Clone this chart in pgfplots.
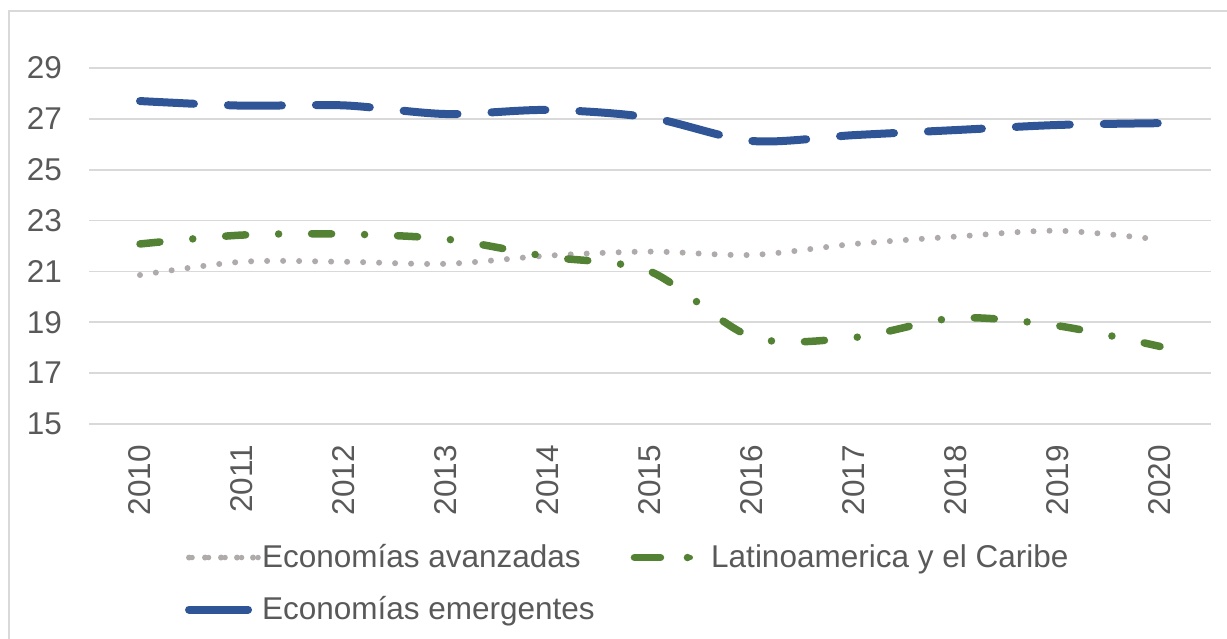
\documentclass[border=0pt]{standalone}
\usepackage{fontspec}
\setmainfont{Liberation Sans}
\usepackage{pgfplots}
\usepackage{pgfplotstable}
\pgfplotsset{compat=1.18}

\definecolor{gridgray}{HTML}{D9D9D9}
\definecolor{textgray}{HTML}{595959}
\definecolor{avzgray}{HTML}{AFABAB}
\definecolor{latgreen}{HTML}{548235}
\definecolor{emgblue}{HTML}{2F5597}

% year index (0 = 2010) and value
\pgfplotstableread{
idx val
0  20.86
1  21.38
2  21.38
3  21.30
4  21.62
5  21.78
6  21.65
7  22.08
8  22.37
9  22.60
10 22.25
}\avanzadas

\pgfplotstableread{
idx val
0  22.08
1  22.43
2  22.47
3  22.27
4  21.58
5  21.00
6  18.42
7  18.40
8  19.17
9  18.86
10 18.05
}\latam

\pgfplotstableread{
idx val
0  27.70
1  27.52
2  27.53
3  27.19
4  27.35
5  27.05
6  26.13
7  26.36
8  26.56
9  26.76
10 26.83
}\emergentes

\newcommand{\lblfont}{\fontsize{31.5bp}{38bp}\selectfont}

\begin{document}
\begin{tikzpicture}
\useasboundingbox (0,0) rectangle (1227bp,639bp);
\draw[gridgray, line width=1.5bp] (9bp,0) -- (9bp,628bp) -- (1227bp,628bp);
\begin{axis}[
  at={(89bp,215bp)}, anchor=south west,
  scale only axis, width=1122bp, height=356bp,
  xmin=-0.5, xmax=10.5, ymin=15, ymax=29,
  ytick={15,17,...,29},
  xtick={0,...,10},
  xticklabels={2010,2011,2012,2013,2014,2015,2016,2017,2018,2019,2020},
  axis line style={draw=none},
  major tick length=0pt,
  ymajorgrids,
  grid style={gridgray, line width=1.8bp},
  /pgf/number format/assume math mode=true,
  tick label style={font=\lblfont, text=textgray},
  yticklabel style={inner sep=0pt, anchor=east, xshift=-27bp},
  xticklabel style={yshift=-21bp, rotate=90, anchor=east, inner sep=0pt},
  clip=false,
  legend columns=2,
  legend cell align=left,
  legend style={
    draw=none, fill=none, inner sep=0pt, outer sep=0pt,
    at={(axis description cs:0.0856,-0.340)}, anchor=north west,
    font=\lblfont, text=textgray,
    nodes={inner sep=0pt, text height=22bp, text depth=7bp},
    row sep=23bp,
    /tikz/every odd column/.style={column sep=0bp},
    /tikz/every even column/.style={column sep=36bp},
  },
]
\addplot[avzgray, line width=6bp, line cap=round,
  dash pattern=on 0bp off 16bp, smooth, tension=0.5,
  legend image code/.code={
    \draw[avzgray, line width=5.5bp, line cap=round, dash pattern=on 0bp off 16.5bp]
      (3bp,2bp) -- (69bp,2bp);
    \path (0bp,2bp) -- (69bp,2bp);
  }] table[x=idx, y=val] {\avanzadas};
\addlegendentry{Economías avanzadas}

\addplot[latgreen, line width=7.5bp, line cap=round,
  dash pattern=on 20bp off 33bp on 0bp off 33bp, smooth, tension=0.5,
  legend image code/.code={
    \draw[latgreen, line width=7.5bp, line cap=round, solid] (2bp,2bp) -- (26bp,2bp);
    \draw[latgreen, line width=5bp, line cap=round, solid] (56bp,2bp) -- (56.01bp,2bp);
    \path (0bp,2bp) -- (73bp,2bp);
  }] table[x=idx, y=val] {\latam};
\addlegendentry{Latinoamerica y el Caribe}

\addplot[emgblue, line width=8bp, line cap=round,
  dash pattern=on 54bp off 34bp, smooth, tension=0.5,
  legend image code/.code={
    \draw[emgblue, line width=8bp, line cap=round, solid] (4bp,2bp) -- (59bp,2bp);
    \path (0bp,2bp) -- (69bp,2bp);
  }] table[x=idx, y=val] {\emergentes};
\addlegendentry{Economías emergentes}
\end{axis}
\end{tikzpicture}
\end{document}
